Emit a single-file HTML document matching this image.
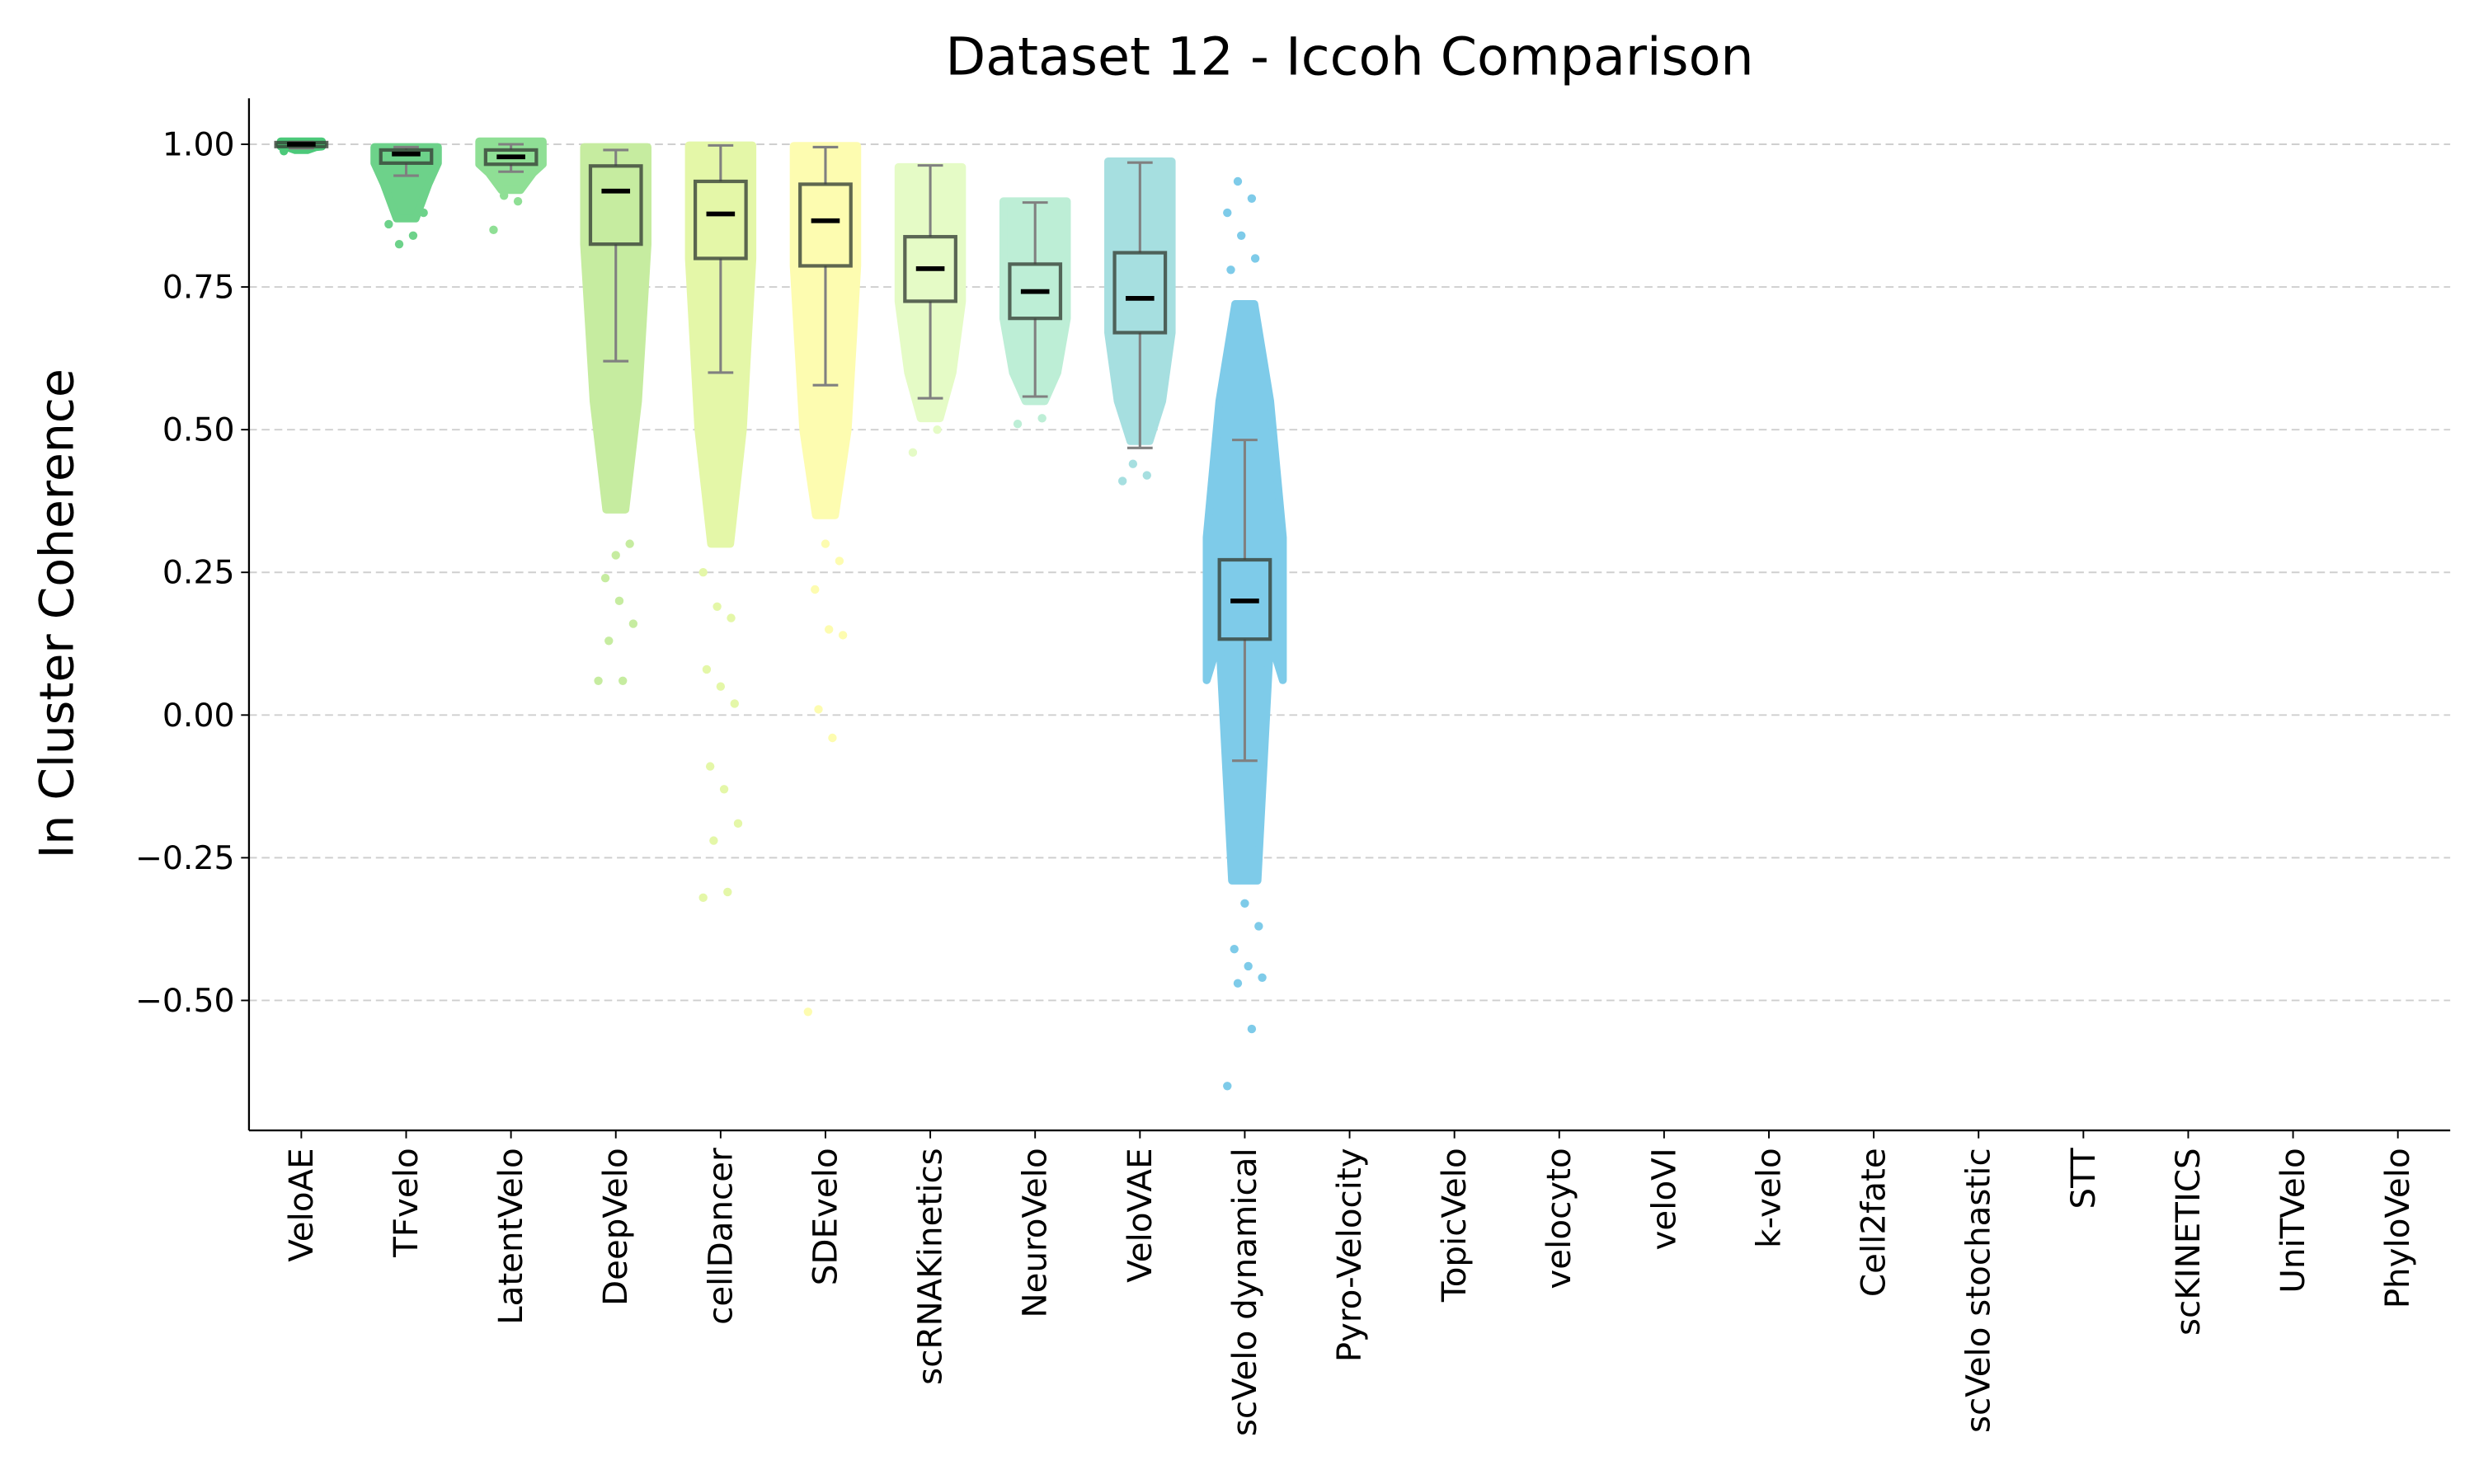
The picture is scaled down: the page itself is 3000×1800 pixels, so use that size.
<!DOCTYPE html>
<html><head><meta charset="utf-8"><style>
html,body{margin:0;padding:0;background:#fff}
svg{display:block}
text{font-family:"DejaVu Sans","Liberation Sans",sans-serif}
</style></head><body>
<svg id="chart" width="3000" height="1800" viewBox="0 0 1560 936" preserveAspectRatio="none" xmlns="http://www.w3.org/2000/svg">
<text x="851" y="47" font-size="33" text-anchor="middle">Dataset 12 - Iccoh Comparison</text>
<text transform="translate(46,387) rotate(-90)" font-size="29.5" text-anchor="middle">In Cluster Coherence</text>
<g id="grid"></g><g id="clouds"></g><g id="boxes"></g><g id="axes"></g>
</svg>
<script>
const categories=["VeloAE","TFvelo","LatentVelo","DeepVelo","cellDancer","SDEvelo","scRNAKinetics","NeuroVelo","VeloVAE","scVelo dynamical","Pyro-Velocity","TopicVelo","velocyto","veloVI","k-velo","Cell2fate","scVelo stochastic","STT","scKINETICS","UniTVelo","PhyloVelo"];
const medians=[1.0,0.983,0.978,0.918,0.878,0.866,0.782,0.742,0.730,0.200];
const q1s=[0.996,0.967,0.965,0.825,0.800,0.787,0.725,0.695,0.670,0.133];
const q3s=[1.003,0.990,0.990,0.962,0.935,0.930,0.838,0.790,0.810,0.272];
const whisLo=[0.993,0.945,0.952,0.620,0.600,0.578,0.555,0.558,0.468,-0.080];
const whisHi=[1.004,0.995,1.000,0.990,0.998,0.995,0.963,0.898,0.968,0.482];
const cloudTop=[1.005,0.995,1.005,0.995,0.998,0.997,0.960,0.900,0.970,0.720];
const cloudMid=[0.995,0.930,0.950,0.550,0.500,0.500,0.600,0.600,0.550,0.300];
const cloudBot=[0.990,0.870,0.920,0.360,0.300,0.350,0.520,0.550,0.480,-0.290];
const outliers=[[0.988],[0.86,0.84,0.825,0.88],[0.85,0.90,0.91],[0.06,0.06,0.13,0.16,0.2,0.24,0.3,0.28],[-0.32,-0.31,-0.22,-0.19,-0.13,-0.09,0.02,0.05,0.08,0.17,0.19,0.25],[-0.52,-0.04,0.01,0.14,0.15,0.22,0.27,0.3],[0.46,0.5],[0.51,0.52],[0.41,0.42,0.44],[-0.65,-0.55,-0.47,-0.46,-0.44,-0.41,-0.37,-0.33,0.78,0.8,0.84,0.88,0.905,0.935]];
const colors=["#4cc97a","#6dd28a","#8fdf95","#c6eca0","#e4f7a8","#fdfcb0","#e5fbc6","#bdeed6","#a6dfe0","#7ecbe9"];
const yTicks=[1.0,0.75,0.5,0.25,0.0,-0.25,-0.5];
const yTickLabels=["1.00","0.75","0.50","0.25","0.00","\u22120.25","\u22120.50"];

const NS="http://www.w3.org/2000/svg";
const L=157,R=1545,T=62,B=713;
const yS=v=>451-360*v;
const xS=i=>190+i*66.1;
function mk(tag,attrs,parent){const e=document.createElementNS(NS,tag);for(const k in attrs)e.setAttribute(k,attrs[k]);parent.appendChild(e);return e;}
const grid=document.getElementById('grid'),clouds=document.getElementById('clouds'),boxes=document.getElementById('boxes'),axes=document.getElementById('axes');

yTicks.forEach((v,i)=>{
  const g=mk('line',{x1:L,x2:R,y1:yS(v),y2:yS(v),stroke:'#cfcfcf','stroke-width':1,'stroke-dasharray':'5,3'},grid);
  
  
  const t=mk('line',{x1:L-5,x2:L,y1:yS(v),y2:yS(v),stroke:'#000','stroke-width':1},axes);
  
  
  const lb=mk('text',{x:L-9,y:yS(v)+7,'font-size':20.5,'text-anchor':'end'},axes);
  lb.textContent=yTickLabels[i];
  
  
});

categories.forEach((c,i)=>{
  const x=xS(i);
  const t=mk('line',{x1:x,x2:x,y1:B,y2:B+5,stroke:'#000','stroke-width':1},axes);
  
  
  const lb=mk('text',{transform:`translate(${x+7},${B+11}) rotate(-90)`,'font-size':21,'text-anchor':'end'},axes);
  lb.textContent=c;
  
  
});

medians.forEach((m,i)=>{
  const x=xS(i),col=colors[i];
  const hw=i===9?24:(i===0?13:20);
  const yt=yS(cloudTop[i]),ym=yS(cloudMid[i]),yb=yS(cloudBot[i]),yq=yS(q1s[i]);
  const mid=yS(medians[i]);
  let pts;
  if(i===9){pts=[[x-6,yt],[x+6,yt],[x+16,yS(0.55)],[x+hw,mid-40],[x+hw,mid+50],[x+16,ym+60],[x+8,yb],[x-8,yb],[x-16,ym+60],[x-hw,mid+50],[x-hw,mid-40],[x-16,yS(0.55)]];}
  else{const yk=Math.max(yq,yt+3);pts=[[x-hw,yt],[x+hw,yt],[x+hw,yk],[x+hw*0.7,ym],[x+hw*0.3,yb],[x-hw*0.3,yb],[x-hw*0.7,ym],[x-hw,yk]];}
  const p=mk('polygon',{points:pts.map(q=>q.join(',')).join(' '),fill:col,stroke:col,'stroke-width':5,'stroke-linejoin':'round'},clouds);
  
  
  outliers[i].forEach((v,k)=>{
    const dx=((k*7)%11-5)*2.2;
    const o=mk('circle',{cx:x+dx,cy:yS(v),r:2.7,fill:col},clouds);
    
    
  });
  const wl=mk('line',{x1:x,x2:x,y1:yS(q1s[i]),y2:yS(whisLo[i]),stroke:'#808080','stroke-width':1.6},boxes);
  
  
  const wh=mk('line',{x1:x,x2:x,y1:yS(q3s[i]),y2:yS(whisHi[i]),stroke:'#808080','stroke-width':1.6},boxes);
  
  
  [whisLo[i],whisHi[i]].forEach(v=>{
    const cp=mk('line',{x1:x-8,x2:x+8,y1:yS(v),y2:yS(v),stroke:'#808080','stroke-width':1.6},boxes);
    
    
  });
  const bx=mk('rect',{x:x-16,y:yS(q3s[i]),width:32,height:Math.max(1,yS(q1s[i])-yS(q3s[i])),fill:col,stroke:'rgba(55,65,55,0.8)','stroke-width':2.2},boxes);
  
  
  const md=mk('line',{x1:x-9,x2:x+9,y1:yS(m),y2:yS(m),stroke:'#000','stroke-width':3},boxes);
  
  
});

const ax1=mk('line',{x1:L,x2:L,y1:T,y2:B,stroke:'#000','stroke-width':1.2},axes);


const ax2=mk('line',{x1:L,x2:R,y1:B,y2:B,stroke:'#000','stroke-width':1.2},axes);


</script>
</body></html>
